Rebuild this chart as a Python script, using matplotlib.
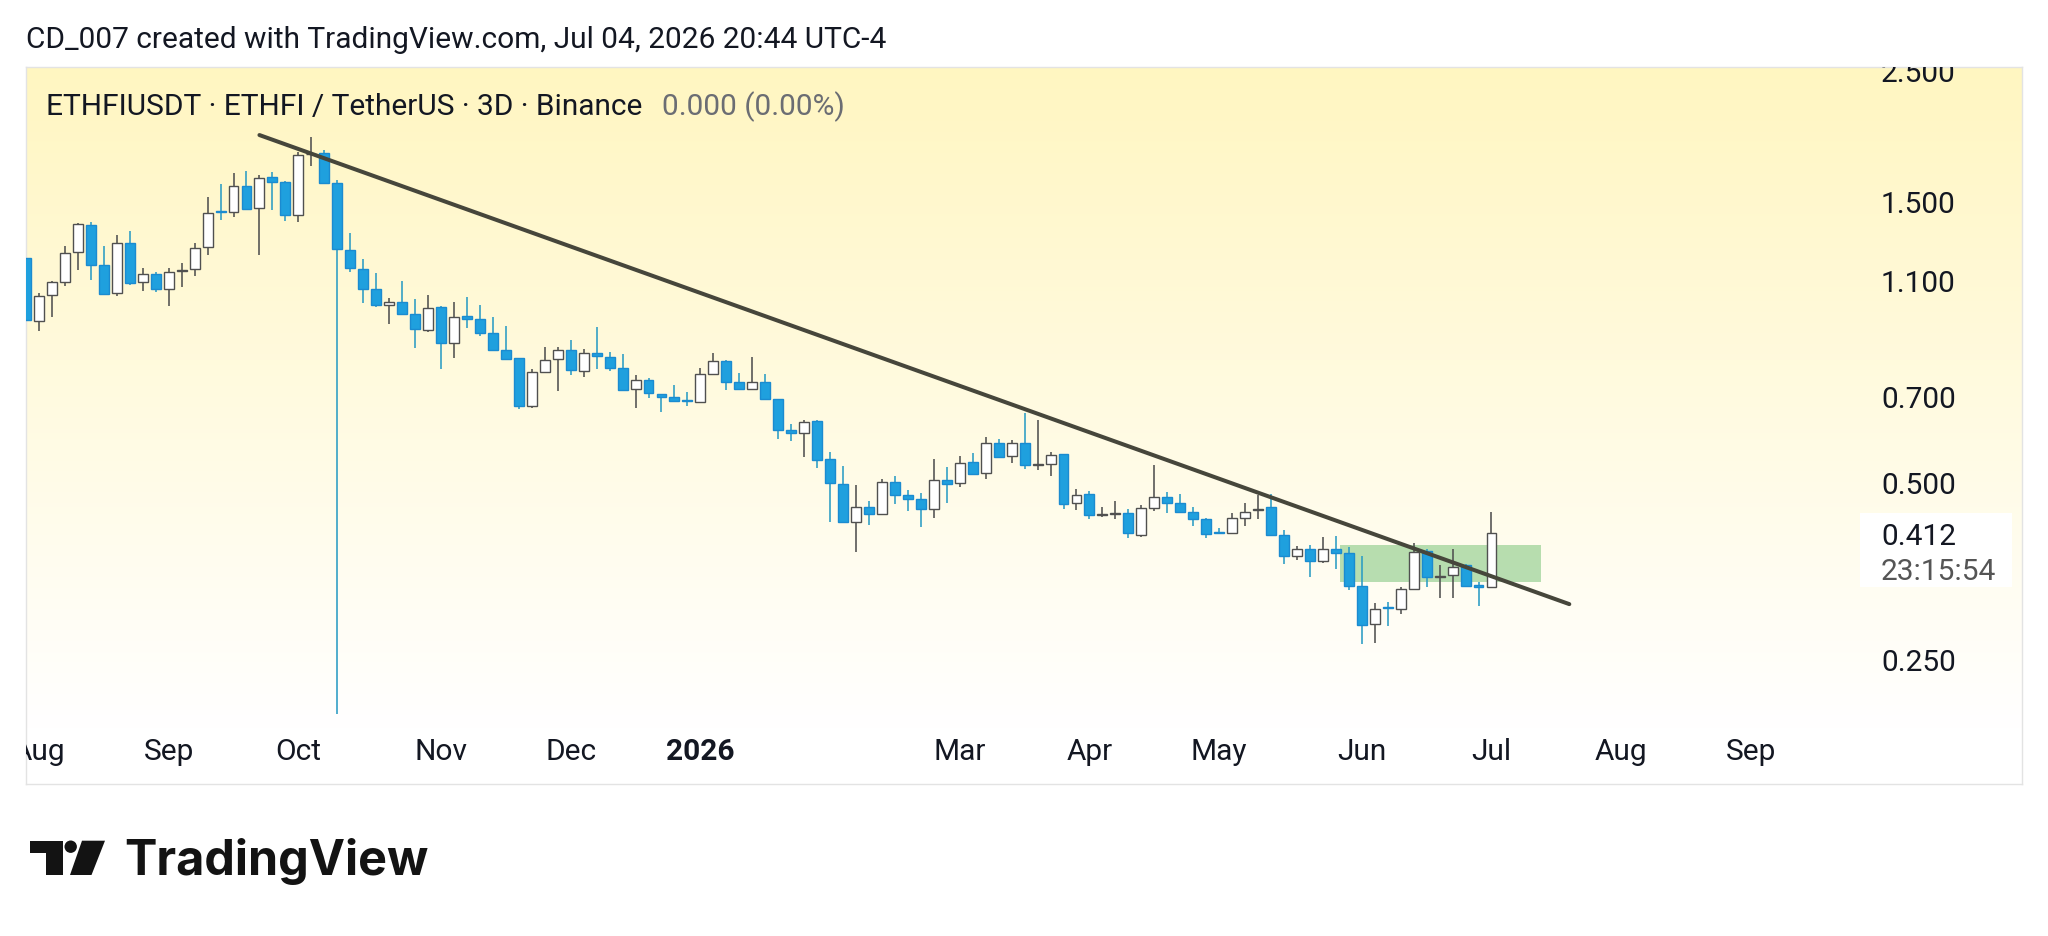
import numpy as np
import pandas as pd
import matplotlib
matplotlib.use("Agg")
import matplotlib.pyplot as plt
import matplotlib.dates as mdates
import matplotlib.transforms as mtransforms
from matplotlib.patches import Rectangle, Polygon, Circle

plt.rcParams["font.family"] = ["Roboto", "DejaVu Sans"]

# 3D candles, ETHFI/USDT
dates = pd.date_range("2025-07-29", periods=114, freq="3D")
opens = [1.204, 0.942, 1.043, 1.096, 1.235, 1.373, 1.171, 1.050, 1.278, 1.098,
         1.132, 1.068, 1.146, 1.154, 1.257, 1.448, 1.445, 1.599, 1.464, 1.656,
         1.624, 1.428, 1.808, 1.815, 1.618, 1.245, 1.156, 1.067, 1.004, 1.015,
         0.968, 0.908, 0.995, 0.866, 0.959, 0.951, 0.900, 0.841, 0.814, 0.676,
         0.773, 0.811, 0.841, 0.775, 0.832, 0.817, 0.783, 0.722, 0.749, 0.707,
         0.699, 0.692, 0.687, 0.766, 0.806, 0.743, 0.721, 0.742, 0.694, 0.615,
         0.607, 0.637, 0.549, 0.499, 0.430, 0.455, 0.443, 0.502, 0.477, 0.470,
         0.452, 0.507, 0.500, 0.542, 0.520, 0.585, 0.555, 0.584, 0.537, 0.539,
         0.560, 0.462, 0.479, 0.442, 0.443, 0.444, 0.408, 0.453, 0.474, 0.463,
         0.447, 0.434, 0.413, 0.412, 0.437, 0.450, 0.455, 0.408, 0.376, 0.387,
         0.369, 0.386, 0.381, 0.334, 0.288, 0.308, 0.306, 0.331, 0.383, 0.347,
         0.349, 0.363, 0.336, 0.333]
highs = [1.211, 1.050, 1.100, 1.263, 1.384, 1.389, 1.263, 1.319, 1.341, 1.158,
         1.142, 1.158, 1.180, 1.280, 1.532, 1.608, 1.678, 1.695, 1.667, 1.689,
         1.629, 1.826, 1.936, 1.838, 1.635, 1.327, 1.201, 1.135, 1.031, 1.101,
         1.028, 1.043, 1.000, 1.015, 1.035, 1.003, 0.957, 0.925, 0.816, 0.781,
         0.850, 0.850, 0.875, 0.843, 0.921, 0.835, 0.827, 0.763, 0.754, 0.708,
         0.733, 0.714, 0.785, 0.830, 0.809, 0.768, 0.817, 0.767, 0.695, 0.630,
         0.640, 0.640, 0.565, 0.534, 0.497, 0.466, 0.509, 0.514, 0.486, 0.481,
         0.549, 0.532, 0.556, 0.562, 0.599, 0.595, 0.592, 0.657, 0.640, 0.565,
         0.561, 0.488, 0.485, 0.455, 0.466, 0.451, 0.459, 0.537, 0.483, 0.479,
         0.455, 0.437, 0.420, 0.445, 0.463, 0.477, 0.479, 0.416, 0.391, 0.392,
         0.405, 0.406, 0.390, 0.376, 0.313, 0.314, 0.333, 0.396, 0.387, 0.363,
         0.387, 0.365, 0.339, 0.447]
lows = [0.927, 0.906, 0.956, 1.081, 1.149, 1.107, 1.045, 1.039, 1.086, 1.059,
        1.054, 0.999, 1.077, 1.125, 1.221, 1.398, 1.416, 1.455, 1.220, 1.454,
        1.393, 1.389, 1.727, 1.610, 0.203, 1.141, 1.012, 0.996, 0.932, 0.966,
        0.848, 0.904, 0.781, 0.815, 0.916, 0.888, 0.839, 0.810, 0.667, 0.671,
        0.770, 0.717, 0.763, 0.758, 0.781, 0.776, 0.718, 0.670, 0.697, 0.659,
        0.689, 0.677, 0.685, 0.763, 0.719, 0.719, 0.720, 0.693, 0.595, 0.590,
        0.553, 0.530, 0.430, 0.429, 0.382, 0.425, 0.442, 0.460, 0.448, 0.421,
        0.437, 0.463, 0.493, 0.517, 0.509, 0.552, 0.540, 0.528, 0.526, 0.514,
        0.451, 0.450, 0.435, 0.438, 0.434, 0.404, 0.405, 0.449, 0.445, 0.446,
        0.423, 0.403, 0.410, 0.410, 0.423, 0.435, 0.407, 0.364, 0.370, 0.347,
        0.366, 0.358, 0.329, 0.267, 0.268, 0.286, 0.300, 0.330, 0.333, 0.319,
        0.319, 0.333, 0.309, 0.332]
closes = [0.946, 1.040, 1.096, 1.230, 1.375, 1.173, 1.047, 1.278, 1.094, 1.131,
          1.068, 1.142, 1.150, 1.252, 1.439, 1.443, 1.599, 1.458, 1.650, 1.624,
          1.426, 1.803, 1.812, 1.618, 1.247, 1.157, 1.067, 1.004, 1.015, 0.969,
          0.914, 0.993, 0.866, 0.957, 0.951, 0.900, 0.841, 0.813, 0.676, 0.771,
          0.809, 0.841, 0.778, 0.832, 0.822, 0.785, 0.719, 0.748, 0.710, 0.701,
          0.690, 0.690, 0.766, 0.806, 0.743, 0.721, 0.741, 0.694, 0.615, 0.607,
          0.635, 0.548, 0.500, 0.430, 0.456, 0.443, 0.502, 0.478, 0.470, 0.452,
          0.507, 0.499, 0.541, 0.518, 0.584, 0.553, 0.584, 0.536, 0.539, 0.559,
          0.461, 0.478, 0.441, 0.443, 0.444, 0.411, 0.453, 0.474, 0.463, 0.447,
          0.434, 0.410, 0.412, 0.437, 0.446, 0.451, 0.408, 0.376, 0.387, 0.369,
          0.387, 0.380, 0.334, 0.287, 0.306, 0.307, 0.331, 0.382, 0.347, 0.348,
          0.360, 0.334, 0.333, 0.412]

# bars that carry the month labels
month_ticks = ["2025-08-01", "2025-08-31", "2025-09-30", "2025-11-02", "2025-12-02",
               "2026-01-01", "2026-03-02", "2026-04-01", "2026-05-01", "2026-06-03",
               "2026-07-03", "2026-08-02", "2026-09-01"]
month_labels = ["Aug", "Sep", "Oct", "Nov", "Dec", "2026", "Mar", "Apr", "May",
                "Jun", "Jul", "Aug", "Sep"]
price_ticks = [2.5, 1.5, 1.1, 0.7, 0.5, 0.25]
price_labels = ["2.500", "1.500", "1.100", "0.700", "0.500", "0.250"]

trend_dates = ["2025-09-21", "2026-07-21"]
trend_prices = [1.949, 0.3115]
zone_dates = ["2026-05-29", "2026-07-14"]
zone_prices = [0.339, 0.393]
last_label = "0.412"
countdown = "23:15:54"

W, H = 2048, 936
fig = plt.figure(figsize=(W / 100, H / 100), dpi=100)
fig.patch.set_facecolor("white")

# chart box in pixels
L, R, T, B = 26, 2022, 67.3, 784
ax = fig.add_axes([L / W, 1 - B / H, (R - L) / W, (B - T) / H])

# yellow -> white background gradient
f = np.linspace(0, 1, 400)
g = np.clip(f / 0.92, 0, 1)[:, None]
top = np.array([255, 246, 193]) / 255
img = top[None, None, :] * (1 - g[:, :, None]) + np.ones(3)[None, None, :] * g[:, :, None]
ax.imshow(img, extent=[0, 1, 0, 1], transform=ax.transAxes, aspect="auto",
          origin="upper", zorder=0, interpolation="bilinear")

o = np.array(opens)
c = np.array(closes)
up = c >= o
x = mdates.date2num(dates)

wick_col = np.where(up, "#505050", "#2a9cc4")
fill_col = np.where(up, "#ffffff", "#1fa0de")
edge_col = np.where(up, "#505050", "#1b8bd0")

ax.vlines(x, lows, highs, colors=wick_col, linewidth=1.15, zorder=2)
ax.bar(x, np.abs(c - o), width=2.3, bottom=np.minimum(o, c), color=fill_col,
       edgecolor=edge_col, linewidth=1.0, zorder=3)

# green zone and trendline
zx = mdates.date2num(pd.to_datetime(zone_dates)) + np.array([0.0, 0.5])
ax.add_patch(Rectangle((zx[0], zone_prices[0]), zx[1] - zx[0],
                       zone_prices[1] - zone_prices[0], facecolor="#4caf50",
                       alpha=0.4, edgecolor="none", zorder=1.5))
ax.plot(mdates.date2num(pd.to_datetime(trend_dates)), trend_prices,
        color="#46463b", linewidth=2.9, solid_capstyle="round", zorder=5)

ax.set_yscale("log")
x0 = x[0]
ax.set_xlim(x0, x0 + (R - L) / 4.323)
ax.set_ylim(0.1542, 2.540)
ax.tick_params(which="both", left=False, bottom=False, labelleft=False, labelbottom=False)
for s in ax.spines.values():
    s.set_color("#e3e3e3")
    s.set_linewidth(1.0)

tx = mtransforms.blended_transform_factory(ax.transData, ax.transAxes)
for d, lab in zip(mdates.date2num(pd.to_datetime(month_ticks)), month_labels):
    ax.text(d, 0.045, lab, transform=tx, ha="center", va="center", fontsize=21.5,
            color="#131722", fontweight="bold" if lab == "2026" else "normal",
            clip_on=True, zorder=6)

ty = mtransforms.blended_transform_factory(ax.transAxes, ax.transData)
lab_x = (1881 - L) / (R - L)
for p, lab in zip(price_ticks, price_labels):
    ax.text(lab_x, p, lab, transform=ty, ha="left", va="center_baseline",
            fontsize=21.5, color="#131722", clip_on=True, zorder=6)

# overlay in pixel coordinates for header, price tag and logo
ov = fig.add_axes([0, 0, 1, 1], facecolor="none")
ov.set_xlim(0, W)
ov.set_ylim(H, 0)
ov.axis("off")

ov.text(26, 40, "CD_007 created with TradingView.com, Jul 04, 2026 20:44 UTC-4",
        fontsize=21.5, color="#131722", ha="left", va="center")
ov.text(46, 107, "ETHFIUSDT \u00b7 ETHFI / TetherUS \u00b7 3D \u00b7 Binance",
        fontsize=21.5, color="#131722", ha="left", va="center")
ov.text(662, 107, "0.000 (0.00%)", fontsize=21.5, color="#6b6d73", ha="left", va="center")

ov.add_patch(Rectangle((1860, 513), 152, 74, facecolor="white", edgecolor="none"))
ov.text(1881, 534, last_label, fontsize=21.5, color="#131722", ha="left", va="center_baseline")
ov.text(1881, 569, countdown, fontsize=21.5, color="#555555", ha="left", va="center_baseline")

# TradingView logo
ov.add_patch(Polygon([(30, 840.7), (63.3, 840.7), (63.3, 875), (46, 875), (46, 853.3), (30, 853.3)],
                     closed=True, facecolor="#131313", edgecolor="none"))
ov.add_patch(Circle((70.7, 846.7), 6.2, facecolor="#131313", edgecolor="none"))
ov.add_patch(Polygon([(82, 840.7), (105, 840.7), (91.5, 875), (70, 875)],
                     closed=True, facecolor="#131313", edgecolor="none"))
ov.text(124, 875, "TradingView", fontsize=35, fontweight="bold", family=["Inter", "DejaVu Sans"],
        color="#131313", ha="left", va="baseline")

fig.savefig("out.png", dpi=100)
